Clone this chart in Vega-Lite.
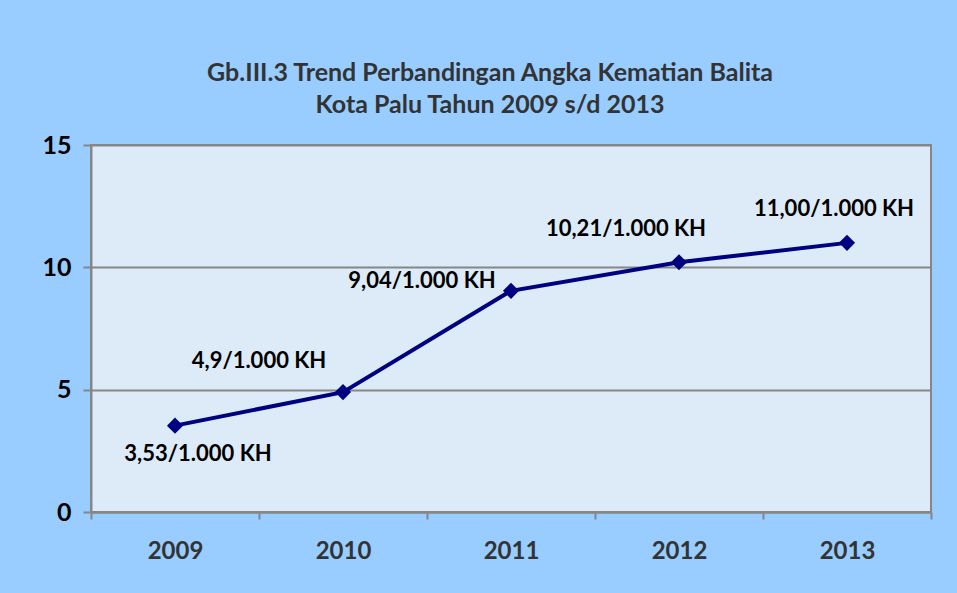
{
  "$schema": "https://vega.github.io/schema/vega-lite/v6.json",
  "width": 840,
  "height": 367,
  "autosize": {"type": "none"},
  "padding": {"left": 91, "top": 145, "right": 26, "bottom": 81},
  "background": "#99CCFF",
  "title": {
    "text": ["Gb.III.3 Trend Perbandingan Angka Kematian Balita", "Kota Palu Tahun 2009 s/d 2013"],
    "font": "Lato",
    "fontSize": 25,
    "fontWeight": "bold",
    "color": "#333333",
    "anchor": "middle",
    "frame": "group",
    "dx": -21,
    "offset": 15,
    "lineHeight": 32
  },
  "config": {
    "view": {"fill": "#DDEAF7", "stroke": "#868686", "strokeWidth": 2},
    "font": "Lato"
  },
  "data": {
    "values": [
      {"tahun": "2009", "nilai": 3.53, "label": "3,53/1.000 KH"},
      {"tahun": "2010", "nilai": 4.9, "label": "4,9/1.000 KH"},
      {"tahun": "2011", "nilai": 9.04, "label": "9,04/1.000 KH"},
      {"tahun": "2012", "nilai": 10.21, "label": "10,21/1.000 KH"},
      {"tahun": "2013", "nilai": 11.0, "label": "11,00/1.000 KH"}
    ]
  },
  "encoding": {
    "x": {
      "field": "tahun",
      "type": "ordinal",
      "title": null,
      "scale": {"paddingInner": 0, "paddingOuter": 0},
      "axis": {
        "labelAngle": 0,
        "labelFont": "Lato",
        "labelFontSize": 24,
        "labelFontWeight": "bold",
        "labelColor": "#333333",
        "labelPadding": 20,
        "tickBand": "extent",
        "tickSize": 7,
        "tickWidth": 2,
        "tickColor": "#868686",
        "domainColor": "#868686",
        "domainWidth": 2,
        "grid": false
      }
    },
    "y": {
      "field": "nilai",
      "type": "quantitative",
      "title": null,
      "scale": {"domain": [0, 15], "nice": false},
      "axis": {
        "values": [0, 5, 10, 15],
        "labelFont": "Lato",
        "labelFontSize": 25,
        "labelFontWeight": "bold",
        "labelColor": "#000000",
        "labelPadding": 12,
        "tickSize": 8,
        "tickWidth": 2,
        "tickColor": "#868686",
        "domainColor": "#868686",
        "domainWidth": 2,
        "gridColor": "#868686",
        "gridWidth": 2
      }
    }
  },
  "layer": [
    {"mark": {"type": "line", "color": "#000080", "strokeWidth": 4}},
    {"mark": {"type": "point", "shape": "diamond", "filled": true, "color": "#000080", "size": 260, "opacity": 1}},
    {
      "transform": [{"filter": "datum.tahun == '2009'"}],
      "mark": {"type": "text", "font": "Lato", "fontSize": 22, "fontWeight": "bold", "color": "#000000", "dx": 23, "dy": 28},
      "encoding": {"text": {"field": "label"}}
    },
    {
      "transform": [{"filter": "datum.tahun == '2010'"}],
      "mark": {"type": "text", "font": "Lato", "fontSize": 22, "fontWeight": "bold", "color": "#000000", "dx": -84, "dy": -31},
      "encoding": {"text": {"field": "label"}}
    },
    {
      "transform": [{"filter": "datum.tahun == '2011'"}],
      "mark": {"type": "text", "font": "Lato", "fontSize": 22, "fontWeight": "bold", "color": "#000000", "dx": -89, "dy": -10},
      "encoding": {"text": {"field": "label"}}
    },
    {
      "transform": [{"filter": "datum.tahun == '2012'"}],
      "mark": {"type": "text", "font": "Lato", "fontSize": 22, "fontWeight": "bold", "color": "#000000", "dx": -53, "dy": -33},
      "encoding": {"text": {"field": "label"}}
    },
    {
      "transform": [{"filter": "datum.tahun == '2013'"}],
      "mark": {"type": "text", "font": "Lato", "fontSize": 22, "fontWeight": "bold", "color": "#000000", "dx": -13, "dy": -34},
      "encoding": {"text": {"field": "label"}}
    }
  ]
}
